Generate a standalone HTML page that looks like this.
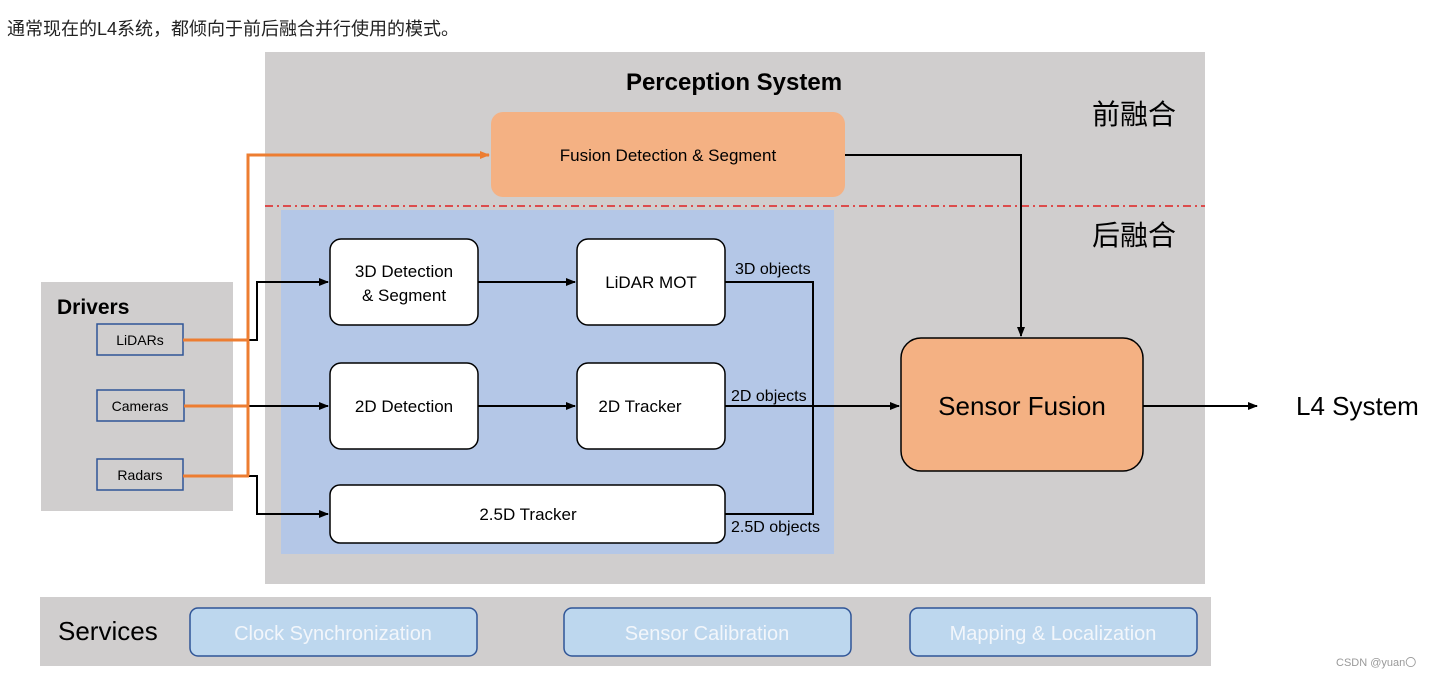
<!DOCTYPE html>
<html><head><meta charset="utf-8"><style>
html,body{margin:0;padding:0;background:#fff;width:1438px;height:678px;overflow:hidden}
svg{display:block;font-family:"Liberation Sans","Noto Sans CJK SC",sans-serif}
</style></head><body>
<svg width="1438" height="678" viewBox="0 0 1438 678" xmlns="http://www.w3.org/2000/svg">
<defs>
<marker id="ab" markerWidth="10" markerHeight="8" refX="9" refY="4" orient="auto" markerUnits="userSpaceOnUse"><path d="M0,0 L10,4 L0,8 z" fill="#000"/></marker>
<marker id="ao" markerWidth="10" markerHeight="8" refX="9" refY="4" orient="auto" markerUnits="userSpaceOnUse"><path d="M0,0 L10,4 L0,8 z" fill="#ed7d31"/></marker>
</defs>
<text x="7" y="35" font-size="18" fill="#222">通常现在的L4系统，都倾向于前后融合并行使用的模式。</text>

<rect x="265" y="52" width="940" height="532" fill="#d0cece"/>
<text x="734" y="90" font-size="24" font-weight="bold" text-anchor="middle" fill="#000">Perception System</text>
<text x="1092" y="124" font-size="28" fill="#000">前融合</text>
<text x="1092" y="245" font-size="28" fill="#000">后融合</text>

<rect x="491" y="112" width="354" height="85" rx="12" fill="#f4b183"/>
<text x="668" y="161" font-size="17" text-anchor="middle" fill="#000">Fusion Detection &amp; Segment</text>

<line x1="265" y1="206" x2="1205" y2="206" stroke="#e02020" stroke-width="1.5" stroke-dasharray="8,4,2,4"/>

<rect x="281" y="210" width="553" height="344" fill="#b4c7e7"/>

<g fill="#fff" stroke="#000" stroke-width="1.5">
<rect x="330" y="239" width="148" height="86" rx="11"/>
<rect x="577" y="239" width="148" height="86" rx="11"/>
<rect x="330" y="363" width="148" height="86" rx="11"/>
<rect x="577" y="363" width="148" height="86" rx="11"/>
<rect x="330" y="485" width="395" height="58" rx="10"/>
</g>
<g font-size="17" text-anchor="middle" fill="#000">
<text x="404" y="277">3D Detection</text>
<text x="404" y="301">&amp; Segment</text>
<text x="651" y="288">LiDAR MOT</text>
<text x="404" y="412">2D Detection</text>
<text x="640" y="412">2D Tracker</text>
<text x="528" y="520">2.5D Tracker</text>
</g>
<g font-size="16" fill="#000">
<text x="735" y="274">3D objects</text>
<text x="731" y="401">2D objects</text>
<text x="731" y="532">2.5D objects</text>
</g>

<rect x="41" y="282" width="192" height="229" fill="#d0cece"/>
<text x="57" y="314" font-size="21" font-weight="bold" fill="#000">Drivers</text>
<g fill="#d0cece" stroke="#2f5597" stroke-width="1.5">
<rect x="97" y="324" width="86" height="31"/>
<rect x="97" y="390" width="87" height="31"/>
<rect x="97" y="459" width="86" height="31"/>
</g>
<g font-size="14" text-anchor="middle" fill="#000">
<text x="140" y="345">LiDARs</text>
<text x="140" y="411">Cameras</text>
<text x="140" y="480">Radars</text>
</g>

<g fill="none" stroke="#000" stroke-width="2">
<polyline points="248,340 257,340 257,282 328,282" marker-end="url(#ab)"/>
<polyline points="248,406 328,406" marker-end="url(#ab)"/>
<polyline points="248,476 257,476 257,514 328,514" marker-end="url(#ab)"/>
<line x1="478" y1="282" x2="575" y2="282" marker-end="url(#ab)"/>
<line x1="478" y1="406" x2="575" y2="406" marker-end="url(#ab)"/>
<polyline points="725,282 813,282 813,514 725,514"/>
<line x1="725" y1="406" x2="899" y2="406" marker-end="url(#ab)"/>
<polyline points="845,155 1021,155 1021,336" marker-end="url(#ab)"/>
<line x1="1143" y1="406" x2="1257" y2="406" marker-end="url(#ab)"/>
</g>
<g fill="none" stroke="#ed7d31" stroke-width="3">
<line x1="183" y1="340" x2="249" y2="340"/>
<line x1="184" y1="406" x2="249" y2="406"/>
<line x1="183" y1="476" x2="249" y2="476"/>
<polyline points="248,476 248,155 489,155" marker-end="url(#ao)"/>
</g>

<rect x="901" y="338" width="242" height="133" rx="20" fill="#f4b183" stroke="#000" stroke-width="1.5"/>
<text x="1022" y="415" font-size="26" text-anchor="middle" fill="#000">Sensor Fusion</text>
<text x="1296" y="415" font-size="26" fill="#000">L4 System</text>

<rect x="40" y="597" width="1171" height="69" fill="#d0cece"/>
<text x="58" y="640" font-size="26" fill="#000">Services</text>
<g fill="#bdd7ee" stroke="#2f5597" stroke-width="1.5">
<rect x="190" y="608" width="287" height="48" rx="8"/>
<rect x="564" y="608" width="287" height="48" rx="8"/>
<rect x="910" y="608" width="287" height="48" rx="8"/>
</g>
<g font-size="20" text-anchor="middle" fill="#f2f6fb">
<text x="333" y="640">Clock Synchronization</text>
<text x="707" y="640">Sensor Calibration</text>
<text x="1053" y="640">Mapping &amp; Localization</text>
</g>
<text x="1336" y="666" font-size="11" fill="#999">CSDN @yuan〇</text>
</svg>
</body></html>
